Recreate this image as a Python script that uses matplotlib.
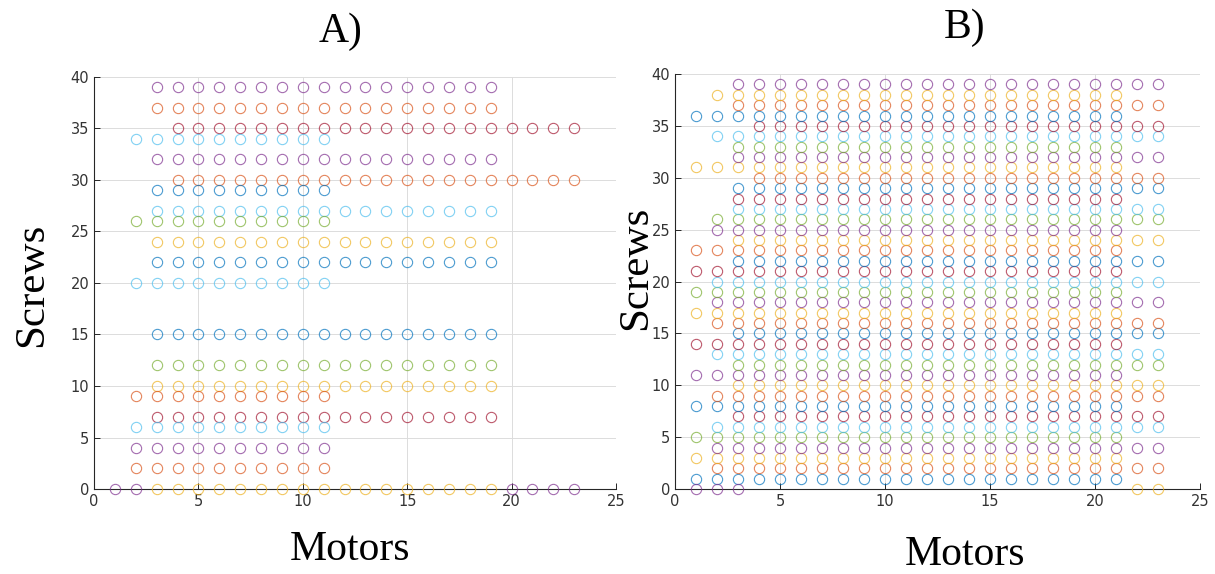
import matplotlib
matplotlib.use("Agg")
import matplotlib.pyplot as plt

# MATLAB default colour order
matlab_colors = ["#0072BD", "#D95319", "#EDB120", "#7E2F8E",
                 "#77AC30", "#4DBEEE", "#A2142F"]

# ---- panel A: one row of motors per screw count ----
a_screws = [39, 37, 35, 34, 32, 30, 29, 27, 26, 24, 22, 20, 15, 12, 10, 9, 7, 6, 4, 2]
a_first_motor = [3, 3, 4, 2, 3, 4, 3, 3, 2, 3, 3, 2, 3, 3, 3, 2, 3, 2, 2, 2]
a_last_motor = [19, 19, 23, 11, 19, 23, 11, 19, 11, 19, 19, 11, 19, 19, 19, 11, 19, 11, 11, 11]
a_zero_purple = [1, 2, 20, 21, 22, 23]
a_zero_yellow = [3, 4, 5, 6, 7, 8, 9, 10, 11, 12, 13, 14, 15, 16, 17, 18, 19]

# ---- panel B: screw counts per motor column ----
b_full_motors = list(range(4, 22))          # columns 4..21
b_full_screws = list(range(1, 40))          # filled 1..39
b_col1 = [0, 1, 3, 5, 8, 11, 14, 17, 19, 21, 23, 31, 36]
b_col2 = [0, 1, 2, 3, 4, 5, 6, 8, 9, 11, 13, 14, 16, 17, 18, 19, 20, 21,
          23, 25, 26, 31, 34, 36, 38]
b_col3 = [s for s in range(0, 40) if s not in (30, 35)]
b_col22_23 = [0, 2, 4, 6, 7, 9, 10, 12, 13, 15, 16, 18, 20, 22, 24, 26, 27,
              29, 30, 32, 34, 35, 37, 39]
b_zero_purple = [1, 2, 3]
b_zero_yellow = [22, 23]


def row_color(s):
    return matlab_colors[(s - 1) % 7]


def circles(ax, xs, ys, color):
    ax.plot(xs, ys, "o", linestyle="none", markersize=7.4, markerfacecolor="none",
            markeredgecolor=color, markeredgewidth=0.8, alpha=0.7, clip_on=False,
            zorder=3)


def style_axes(ax):
    ax.set_xlim(0, 25)
    ax.set_ylim(0, 40)
    ax.set_xticks(range(0, 26, 5))
    ax.set_yticks(range(0, 41, 5))
    ax.grid(True, color="#dcdcdc", linewidth=0.7)
    ax.set_axisbelow(True)
    for side in ["top", "right"]:
        ax.spines[side].set_visible(False)
    for side in ["left", "bottom"]:
        ax.spines[side].set_color("#262626")
        ax.spines[side].set_linewidth(0.8)
    ax.tick_params(direction="in", length=4, width=0.7, colors="#262626",
                   labelsize=10.5, labelcolor="#333333")


fig = plt.figure(figsize=(12.15, 5.74), dpi=100)
serif = "Liberation Serif"

# panel A
axA = fig.add_axes([0.0774, 0.148, 0.4296, 0.718])
style_axes(axA)
for s, m0, m1 in zip(a_screws, a_first_motor, a_last_motor):
    ms = list(range(m0, m1 + 1))
    circles(axA, ms, [s] * len(ms), row_color(s))
circles(axA, a_zero_purple, [0] * len(a_zero_purple), matlab_colors[3])
circles(axA, a_zero_yellow, [0] * len(a_zero_yellow), matlab_colors[2])

# panel B
axB = fig.add_axes([0.5556, 0.148, 0.4321, 0.723])
style_axes(axB)
columns = {1: b_col1, 2: b_col2, 3: b_col3, 22: b_col22_23, 23: b_col22_23}
for m in b_full_motors:
    columns[m] = b_full_screws
for m, screws in columns.items():
    for s in screws:
        if s == 0:
            continue
        circles(axB, [m], [s], row_color(s))
circles(axB, b_zero_purple, [0] * len(b_zero_purple), matlab_colors[3])
circles(axB, b_zero_yellow, [0] * len(b_zero_yellow), matlab_colors[2])

# labels
fig.text(0.280, 0.945, "A)", family=serif, fontsize=30, ha="center", va="center")
fig.text(0.794, 0.952, "B)", family=serif, fontsize=30, ha="center", va="center")
fig.text(0.288, 0.042, "Motors", family=serif, fontsize=30, ha="center", va="center")
fig.text(0.794, 0.033, "Motors", family=serif, fontsize=30, ha="center", va="center")
fig.text(0.026, 0.503, "Screws", family=serif, fontsize=31, ha="center", va="center",
         rotation=90)
fig.text(0.523, 0.533, "Screws", family=serif, fontsize=31, ha="center", va="center",
         rotation=90)

fig.savefig("out.png", dpi=100)
